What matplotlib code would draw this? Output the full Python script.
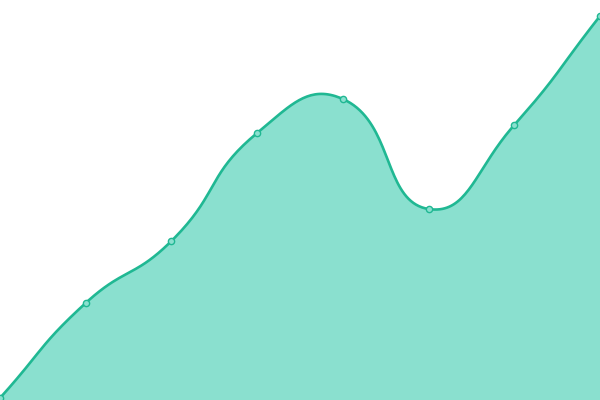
import numpy as np
import matplotlib
matplotlib.use('Agg')
import matplotlib.pyplot as plt

# data
x_vals = [0, 1, 2, 3, 4, 5, 6, 7]
y_vals = [2, 97, 159, 267, 301, 191, 275, 384]

line_color = '#20b893'
fill_color = '#8ae0cf'

def smooth_curve(xs, ys, smooth=0.5, n=40):
    # bezier smoothing like echarts: control points from neighbours
    xs = np.asarray(xs, float)
    ys = np.asarray(ys, float)
    pts = np.column_stack([xs, ys])
    m = len(pts)
    cps = []
    for i in range(m):
        p = pts[i]
        prev = pts[i - 1] if i > 0 else p
        nxt = pts[i + 1] if i < m - 1 else p
        v = (nxt - prev) * smooth
        d0 = np.hypot(*(p - prev))
        d1 = np.hypot(*(p - nxt))
        r = d0 / (d0 + d1) if d0 + d1 > 0 else 0.5
        cps.append((p - v * r, p + v * (1 - r)))
    out = []
    t = np.linspace(0, 1, n)[:, None]
    for i in range(m - 1):
        p0 = pts[i]
        c1 = cps[i][1]
        c2 = cps[i + 1][0]
        p3 = pts[i + 1]
        seg = (1 - t) ** 3 * p0 + 3 * (1 - t) ** 2 * t * c1 + 3 * (1 - t) * t ** 2 * c2 + t ** 3 * p3
        out.append(seg if i == 0 else seg[1:])
    out = np.vstack(out)
    return out[:, 0], out[:, 1]

fig = plt.figure(figsize=(6, 4), dpi=100)
ax = fig.add_axes([0, 0, 1, 1])
ax.set_xlim(0, 7)
ax.set_ylim(0, 400)
ax.axis('off')

# smoothing done in pixel-like units so the spline shape matches
sx, sy = smooth_curve(np.array(x_vals) * 600 / 7, y_vals)
sx = sx * 7 / 600
ax.fill_between(sx, 0, sy, color=fill_color, linewidth=0)
ax.plot(sx, sy, color=line_color, linewidth=1.9, solid_capstyle='round')
ax.plot(x_vals, y_vals, 'o', markersize=4.5, markerfacecolor=fill_color,
        markeredgecolor=line_color, markeredgewidth=1.0, clip_on=False)

fig.savefig('out.png', dpi=100)
